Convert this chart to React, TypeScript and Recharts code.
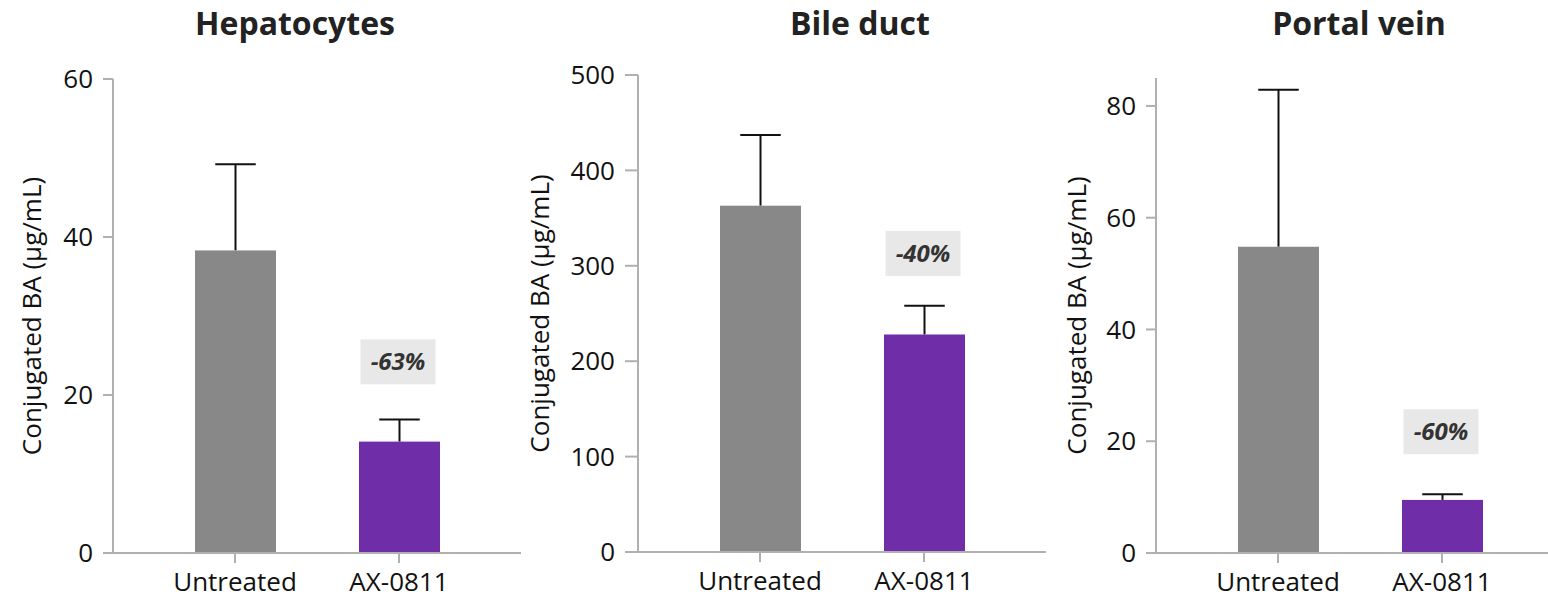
import React from 'react';
import { BarChart, Bar, XAxis, YAxis, ReferenceDot } from 'recharts';

// Treatment groups shown on every panel
const categories = ['Untreated', 'AX-0811'];

// Mean conjugated bile-acid concentration (µg/mL) and upper SD per group
const hepatocytesMean = [38.3, 14.1];
const hepatocytesErr = [10.9, 2.8];
const bileDuctMean = [363, 228];
const bileDuctErr = [74, 30];
const portalVeinMean = [54.8, 9.5];
const portalVeinErr = [28.1, 1.0];

// Reduction callouts and the value height where each box is centred
const reductionLabels = ['-63%', '-40%', '-60%'];
const reductionY = [24.2, 313, 21.7];

// Axis settings
const hepatocytesTicks = [0, 20, 40, 60];
const bileDuctTicks = [0, 100, 200, 300, 400, 500];
const portalVeinTicks = [0, 20, 40, 60, 80];

const titles = ['Hepatocytes', 'Bile duct', 'Portal vein'];
const yLabel = 'Conjugated BA (\u00b5g/mL)';

const barColors = ['#888888', '#6f2da8'];
const FONT = '"Open Sans", "Noto Sans", sans-serif';
const AXIS = '#b0b0b0';

const buildRows = (means: number[], errs: number[]) =>
  categories.map((name, i) => ({ name, value: means[i], err: errs[i], color: barColors[i] }));

// Bar with an upward-only whisker; the whisker length is scaled from the bar's own pixel height
const BarWithWhisker = (props: any) => {
  const { x, y, width, height, payload } = props;
  if (height == null || !payload) return null;
  const pxPerUnit = payload.value ? height / payload.value : 0;
  const top = y - payload.err * pxPerUnit;
  const cx = x + width / 2;
  const cap = width / 4;
  return (
    <g>
      <line x1={cx} y1={y} x2={cx} y2={top} stroke="#111" strokeWidth={2} />
      <line x1={cx - cap} y1={top} x2={cx + cap} y2={top} stroke="#111" strokeWidth={2} />
      <rect x={x} y={y} width={width} height={height} fill={payload.color} />
    </g>
  );
};

const makeCallout = (text: string) => (props: any) => {
  const { cx, cy } = props;
  if (cx == null || cy == null) return null;
  const w = 75;
  const h = 45;
  return (
    <g>
      <rect x={cx - w / 2 - 1} y={cy - h / 2} width={w} height={h} fill="#e8e8e8" />
      <text
        x={cx - 1}
        y={cy}
        dy="0.36em"
        textAnchor="middle"
        fontFamily={FONT}
        fontSize={24}
        fontWeight={700}
        fontStyle="italic"
        fill="#333"
      >
        {text}
      </text>
    </g>
  );
};

type PanelProps = {
  left: number;
  axisWidth: number;
  plotTop: number;
  plotBottom: number;
  rows: any[];
  domain: [number, number];
  ticks: number[];
  tickLen: number;
  labelOffset: number;
  callout: string;
  calloutY: number;
};

const Panel = ({ left, axisWidth, plotTop, plotBottom, rows, domain, ticks, tickLen, labelOffset, callout, calloutY }: PanelProps) => {
  const plotWidth = 408;
  const height = 601;
  const tickStyle = { fontFamily: FONT, fontSize: 26, fill: '#111' };
  return (
    <div style={{ position: 'absolute', left, top: 0 }}>
      <BarChart
        width={axisWidth + plotWidth}
        height={height}
        data={rows}
        margin={{ top: plotTop, right: 0, bottom: 0, left: 0 }}
        barSize={81}
      >
        <XAxis
          dataKey="name"
          height={height - plotBottom}
          padding={{ left: 40, right: 40 }}
          stroke={AXIS}
          strokeWidth={2}
          tickSize={10}
          tickMargin={10}
          tick={tickStyle}
          tickLine={{ stroke: AXIS, strokeWidth: 2 }}
        />
        <YAxis
          width={axisWidth}
          domain={domain}
          ticks={ticks}
          allowDataOverflow
          stroke={AXIS}
          strokeWidth={2}
          tickSize={tickLen}
          tickMargin={10}
          tick={tickStyle}
          tickLine={{ stroke: AXIS, strokeWidth: 2 }}
          label={{
            value: yLabel,
            angle: -90,
            position: 'insideLeft',
            offset: labelOffset,
            style: { textAnchor: 'middle', fontFamily: FONT, fontSize: 26, fill: '#111' },
          }}
        />
        <Bar dataKey="value" shape={BarWithWhisker} isAnimationActive={false} />
        <ReferenceDot x={categories[1]} y={calloutY} shape={makeCallout(callout)} />
      </BarChart>
    </div>
  );
};

export default function App() {
  return (
    <div
      style={{
        position: 'fixed',
        left: 0,
        top: 0,
        width: 1548,
        height: 601,
        overflow: 'hidden',
        background: '#fff',
      }}
    >
      <Panel
        left={0}
        axisWidth={113}
        plotTop={79}
        plotBottom={553}
        rows={buildRows(hepatocytesMean, hepatocytesErr)}
        domain={[0, 60]}
        ticks={hepatocytesTicks}
        tickLen={10}
        labelOffset={32}
        callout={reductionLabels[0]}
        calloutY={reductionY[0]}
      />
      <Panel
        left={521}
        axisWidth={117}
        plotTop={75}
        plotBottom={552}
        rows={buildRows(bileDuctMean, bileDuctErr)}
        domain={[0, 500]}
        ticks={bileDuctTicks}
        tickLen={13}
        labelOffset={19}
        callout={reductionLabels[1]}
        calloutY={reductionY[1]}
      />
      <Panel
        left={1043}
        axisWidth={113}
        plotTop={78}
        plotBottom={553}
        rows={buildRows(portalVeinMean, portalVeinErr)}
        domain={[0, 85]}
        ticks={portalVeinTicks}
        tickLen={10}
        labelOffset={34}
        callout={reductionLabels[2]}
        calloutY={reductionY[2]}
      />
      <svg
        width={1548}
        height={60}
        style={{ position: 'absolute', left: 0, top: 0, pointerEvents: 'none' }}
      >
        {[295, 860, 1359].map((cx, i) => (
          <text
            key={titles[i]}
            x={cx}
            y={35}
            textAnchor="middle"
            fontFamily={FONT}
            fontSize={32}
            fontWeight={700}
            fill="#222"
          >
            {titles[i]}
          </text>
        ))}
      </svg>
    </div>
  );
}
